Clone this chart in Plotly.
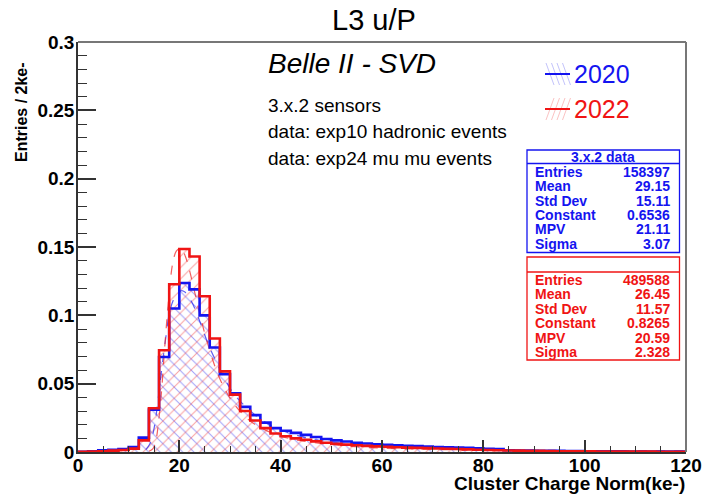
import plotly.graph_objects as go

# ---------------- data ----------------
bin_width = 2
bin_edges = list(range(0, 122, bin_width))

counts_2020 = [0.0002, 0.0005, 0.0012, 0.0017, 0.0022, 0.0037, 0.0105, 0.031, 0.0695, 0.105,
               0.1237, 0.119, 0.100, 0.0765, 0.057, 0.043, 0.033, 0.027, 0.0215, 0.0175,
               0.0155, 0.0140, 0.0125, 0.0110, 0.0095, 0.0085, 0.0077, 0.0068, 0.0062, 0.0057,
               0.0053, 0.0049, 0.0046, 0.0043, 0.0040, 0.0037, 0.0034, 0.0032, 0.0030, 0.0027,
               0.0024, 0.0022, 0.0013, 0.0011, 0.0010, 0.0009, 0.0008, 0.0008, 0.0007, 0.0007,
               0.0006, 0.0006, 0.0005, 0.0005, 0.0004, 0.0004, 0.0004, 0.0003, 0.0003, 0.0003]

counts_2022 = [0.0001, 0.0003, 0.0006, 0.0010, 0.0015, 0.0025, 0.0085, 0.032, 0.0745, 0.1227,
               0.1485, 0.1430, 0.1140, 0.0830, 0.0590, 0.0420, 0.0300, 0.0230, 0.0175, 0.0135,
               0.0115, 0.0100, 0.0090, 0.0078, 0.0068, 0.0060, 0.0054, 0.0049, 0.0045, 0.0041,
               0.0038, 0.0035, 0.0032, 0.0030, 0.0028, 0.0026, 0.0024, 0.0022, 0.0019, 0.0017,
               0.0015, 0.0013, 0.0011, 0.0010, 0.0009, 0.0008, 0.0007, 0.0006, 0.0006, 0.0005,
               0.0005, 0.0004, 0.0004, 0.0004, 0.0003, 0.0003, 0.0003, 0.0002, 0.0002, 0.0002]

fit_2020_x = [13.4, 14.2, 15.0, 15.8, 16.5, 17.3, 18.0, 18.8, 19.6, 20.4, 21.1, 21.9, 22.7, 24.2,
              25.7, 27.3, 30.3, 33.4, 36.5, 39.5, 45.7, 51.8, 60, 67.2, 82.5, 100, 120]
fit_2020_y = [0.0017, 0.006, 0.017, 0.038, 0.060, 0.083, 0.101, 0.111, 0.116, 0.118, 0.117, 0.113,
              0.108, 0.094, 0.079, 0.066, 0.045, 0.032, 0.023, 0.0168, 0.0099, 0.0065, 0.0043,
              0.0029, 0.0016, 0.0010, 0.0007]

fit_2022_x = [14.0, 14.8, 15.4, 15.9, 16.5, 17.1, 17.7, 18.3, 18.8, 19.4, 20.1, 20.6, 21.2, 21.8,
              22.9, 24.1, 25.3, 27.6, 29.9, 32.2, 34.6, 39.2, 43.9, 55.5, 67.2, 90.4, 120]
fit_2022_y = [0.0005, 0.0025, 0.009, 0.022, 0.045, 0.076, 0.104, 0.128, 0.140, 0.147, 0.149, 0.148,
              0.143, 0.136, 0.119, 0.100, 0.083, 0.057, 0.040, 0.029, 0.021, 0.0126, 0.0083,
              0.0037, 0.0021, 0.0009, 0.0005]

x_ticks = [0, 20, 40, 60, 80, 100, 120]
x_tick_labels = ["0", "20", "40", "60", "80", "100", "120"]
y_ticks = [0, 0.05, 0.1, 0.15, 0.2, 0.25, 0.3]
y_tick_labels = ["0", "0.05", "0.1", "0.15", "0.2", "0.25", "0.3"]

stat_labels = ["Entries", "Mean", "Std Dev", "Constant", "MPV", "Sigma"]
stats_2020 = ["158397", "29.15", "15.11", "0.6536", "21.11", "3.07"]
stats_2022 = ["489588", "26.45", "11.57", "0.8265", "20.59", "2.328"]

info_lines = ["3.x.2 sensors", "data: exp10 hadronic events", "data: exp24 mu mu events"]

# ---------------- style ----------------
BLUE = "#1414f0"
RED = "#f01414"
FONT = "Liberation Sans"

W, H = 702, 496
L, R, T, B = 78, 16, 42, 44
PW, PH = W - L - R, H - T - B


def px(p):
    return (p - L) / PW


def py(p):
    return (H - B - p) / PH


centers = [e + bin_width / 2 for e in bin_edges[:-1]]

fig = go.Figure()

fig.add_trace(go.Bar(
    x=centers, y=counts_2020, width=bin_width,
    marker=dict(color="rgba(0,0,0,0)", line=dict(width=0),
                pattern=dict(shape="\\", size=8, solidity=0.13, fgcolor=BLUE,
                             fgopacity=0.4, bgcolor="rgba(0,0,0,0)")),
    showlegend=False, hoverinfo="skip"))
fig.add_trace(go.Bar(
    x=centers, y=counts_2022, width=bin_width,
    marker=dict(color="rgba(0,0,0,0)", line=dict(width=0),
                pattern=dict(shape="/", size=8, solidity=0.13, fgcolor=RED,
                             fgopacity=0.4, bgcolor="rgba(0,0,0,0)")),
    showlegend=False, hoverinfo="skip"))

fig.add_trace(go.Scatter(x=fit_2020_x, y=fit_2020_y, mode="lines", line_shape="spline",
                         line=dict(color="rgba(40,40,240,0.75)", width=1.2, dash="dash"),
                         showlegend=False, hoverinfo="skip"))
fig.add_trace(go.Scatter(x=fit_2022_x, y=fit_2022_y, mode="lines", line_shape="spline",
                         line=dict(color="rgba(240,40,40,0.75)", width=1.2, dash="dash"),
                         showlegend=False, hoverinfo="skip"))

fig.add_trace(go.Scatter(x=bin_edges, y=counts_2020 + [counts_2020[-1]], mode="lines",
                         line_shape="hv", line=dict(color=BLUE, width=2.6),
                         showlegend=False, hoverinfo="skip"))
fig.add_trace(go.Scatter(x=bin_edges, y=counts_2022 + [counts_2022[-1]], mode="lines",
                         line_shape="hv", line=dict(color=RED, width=2.6),
                         showlegend=False, hoverinfo="skip"))

shapes = []
annotations = []

# frame (top / right)
shapes.append(dict(type="line", xref="paper", yref="paper", x0=0, x1=1, y0=1, y1=1,
                   line=dict(color="#777", width=2)))
shapes.append(dict(type="line", xref="paper", yref="paper", x0=1, x1=1, y0=0, y1=1,
                   line=dict(color="#777", width=2)))

# title and axis titles
annotations.append(dict(text="L3 u/P", x=px(374), y=py(20), xref="paper", yref="paper",
                        showarrow=False, xanchor="center", yanchor="middle",
                        font=dict(family=FONT, size=29, color="black")))
annotations.append(dict(text="Cluster Charge Norm(ke-)", x=px(687), y=py(483.5), xref="paper",
                        yref="paper", showarrow=False, xanchor="right", yanchor="middle",
                        font=dict(family=FONT, size=19, color="black", weight="bold")))
annotations.append(dict(text="Entries / 2ke-", x=px(21), y=py(112), xref="paper", yref="paper",
                        showarrow=False, textangle=-90, xanchor="center", yanchor="middle",
                        font=dict(family=FONT, size=16, color="black", weight="bold")))

# Belle II label and info text
annotations.append(dict(text="<i>Belle II - SVD</i>", x=px(266), y=py(63), xref="paper",
                        yref="paper", showarrow=False, xanchor="left", yanchor="middle",
                        font=dict(family=FONT, size=28, color="black")))
for txt, ypix in zip(info_lines, [105, 131.5, 158]):
    annotations.append(dict(text=txt, x=px(266), y=py(ypix), xref="paper", yref="paper",
                            showarrow=False, xanchor="left", yanchor="middle",
                            font=dict(family=FONT, size=19, color="black")))

# legend (manual)
for label, color, ypix, hatch in [("2020", BLUE, 74, "\\"), ("2022", RED, 109, "/")]:
    annotations.append(dict(text=label, x=px(572), y=py(ypix), xref="paper", yref="paper",
                            showarrow=False, xanchor="left", yanchor="middle",
                            font=dict(family=FONT, size=25, color=color)))
    x0 = 546
    y0, y1 = ypix - 11, ypix + 11
    for k in range(4):
        off = k * 5.5
        if hatch == "\\":
            shapes.append(dict(type="line", xref="paper", yref="paper",
                               x0=px(x0 + off), y0=py(y0), x1=px(x0 + off + 8), y1=py(y1),
                               line=dict(color=color, width=1), opacity=0.25))
        else:
            shapes.append(dict(type="line", xref="paper", yref="paper",
                               x0=px(x0 + off), y0=py(y1), x1=px(x0 + off + 8), y1=py(y0),
                               line=dict(color=color, width=1), opacity=0.25))
    shapes.append(dict(type="line", xref="paper", yref="paper", x0=px(545), x1=px(570),
                       y0=py(ypix), y1=py(ypix), line=dict(color=color, width=2)))


# stat boxes
def stat_box(top, divider, bottom, first_row, step, header, values, color):
    shapes.append(dict(type="rect", xref="paper", yref="paper", x0=px(527), x1=px(679.5),
                       y0=py(bottom), y1=py(top), line=dict(color=color, width=1.3),
                       fillcolor="white", layer="above"))
    shapes.append(dict(type="line", xref="paper", yref="paper", x0=px(527), x1=px(679.5),
                       y0=py(divider), y1=py(divider), line=dict(color=color, width=1.3)))
    if header:
        annotations.append(dict(text=header, x=px(603), y=py((top + divider) / 2 + 0.5),
                                xref="paper", yref="paper", showarrow=False,
                                xanchor="center", yanchor="middle",
                                font=dict(family=FONT, size=14, color=color, weight="bold")))
    for i, (lab, val) in enumerate(zip(stat_labels, values)):
        ypix = first_row + i * step
        annotations.append(dict(text=lab, x=px(533), y=py(ypix), xref="paper", yref="paper",
                                showarrow=False, xanchor="left", yanchor="middle",
                                font=dict(family=FONT, size=14, color=color, weight="bold")))
        annotations.append(dict(text=val, x=px(672), y=py(ypix), xref="paper", yref="paper",
                                showarrow=False, xanchor="right", yanchor="middle",
                                font=dict(family=FONT, size=14, color=color, weight="bold")))


stat_box(150, 163.5, 252.5, 172, 14.3, "3.x.2 data", stats_2020, BLUE)
stat_box(257, 272, 360, 279.5, 14.5, "", stats_2022, RED)

tickfont = dict(family=FONT, size=19, color="black", weight="bold")

fig.update_layout(
    width=W, height=H,
    margin=dict(l=L, r=R, t=T, b=B, pad=0, autoexpand=False),
    paper_bgcolor="white", plot_bgcolor="white",
    barmode="overlay", bargap=0,
    showlegend=False,
    shapes=shapes, annotations=annotations,
    xaxis=dict(range=[0, 120], tickvals=x_ticks, ticktext=x_tick_labels, ticks="inside",
               ticklen=12, tickwidth=1.5, tickcolor="#333", showline=True, linecolor="#333",
               linewidth=1.5, showgrid=False, zeroline=False, tickfont=tickfont,
               automargin=False, ticklabelstandoff=-5,
               minor=dict(dtick=5, ticks="inside", ticklen=6, tickwidth=1.2, tickcolor="#333",
                          showgrid=False)),
    yaxis=dict(range=[0, 0.3], tickvals=y_ticks, ticktext=y_tick_labels, ticks="inside",
               ticklen=18, tickwidth=1.5, tickcolor="#333", showline=True, linecolor="#333",
               linewidth=1.5, showgrid=False, zeroline=False, tickfont=tickfont,
               automargin=False, ticklabelstandoff=-2,
               minor=dict(dtick=0.01, ticks="inside", ticklen=9, tickwidth=1.2,
                          tickcolor="#333", showgrid=False)),
)

fig.write_html("out.html", config={"displayModeBar": False},
               post_script="document.body.style.margin='0px';")
